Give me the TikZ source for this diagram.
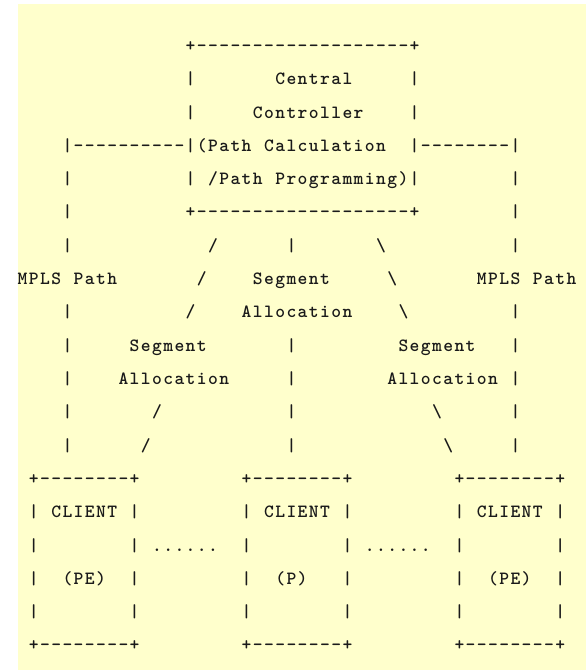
\documentclass[tikz,border=0pt]{standalone}
\usepackage{fontspec}
\definecolor{bgyellow}{HTML}{FFFFCC}
\definecolor{ink}{HTML}{1A1A1A}
\newcommand\colx[1]{(17+11.2*#1)}
\newcommand\rowy[1]{(51.5+33.3*(#1-1))}
% every character in a cell of fixed width (monospaced grid)
\def\cellstr#1{\cellstri#1\relax}
\def\cellstri#1{\ifx\relax#1\else\makebox[8.4pt]{#1}\expandafter\cellstri\fi}
\newcommand\tx[4]{\node[txt] (#1) at ({\colx{#2}},{\rowy{#3}}) {\cellstr{#4}};}
\begin{document}
\begin{tikzpicture}[x=0.75pt,y=-0.75pt,
  txt/.style={anchor=base west,inner sep=0pt,outer sep=0pt,
    font=\ttfamily\bfseries\fontsize{14}{16}\selectfont,text=ink}]
\useasboundingbox (0,0) rectangle (586,670);
\fill[bgyellow] (18,4) rectangle (586,670);
% row 1
\tx{ctop}{15}{1}{+-------------------+}
% row 2
\tx{r2a}{15}{2}{|}
\tx{central}{23}{2}{Central}
\tx{r2b}{35}{2}{|}
% row 3
\tx{r3a}{15}{3}{|}
\tx{controller}{21}{3}{Controller}
\tx{r3b}{35}{3}{|}
% row 4
\tx{ldash}{4}{4}{|----------|}
\tx{pathcalc}{16}{4}{(Path~Calculation}
\tx{rdash}{35}{4}{|--------|}
% row 5
\tx{r5a}{4}{5}{|}
\tx{r5b}{15}{5}{|}
\tx{pathprog}{17}{5}{/Path~Programming)}
\tx{r5c}{35}{5}{|}
\tx{r5d}{44}{5}{|}
% row 6
\tx{r6a}{4}{6}{|}
\tx{cbot}{15}{6}{+-------------------+}
\tx{r6b}{44}{6}{|}
% row 7
\tx{r7a}{4}{7}{|}
\tx{r7b}{17}{7}{/}
\tx{r7c}{24}{7}{|}
\tx{r7d}{32}{7}{\textbackslash}
\tx{r7e}{44}{7}{|}
% row 8
\tx{mplsl}{0}{8}{MPLS~Path}
\tx{r8b}{16}{8}{/}
\tx{segc}{21}{8}{Segment}
\tx{r8d}{33}{8}{\textbackslash}
\tx{mplsr}{41}{8}{MPLS~Path}
% row 9
\tx{r9a}{4}{9}{|}
\tx{r9b}{15}{9}{/}
\tx{allocc}{20}{9}{Allocation}
\tx{r9d}{34}{9}{\textbackslash}
\tx{r9e}{44}{9}{|}
% row 10
\tx{r10a}{4}{10}{|}
\tx{segl}{10}{10}{Segment}
\tx{r10c}{24}{10}{|}
\tx{segr}{34}{10}{Segment}
\tx{r10e}{44}{10}{|}
% row 11
\tx{r11a}{4}{11}{|}
\tx{allocl}{9}{11}{Allocation}
\tx{r11c}{24}{11}{|}
\tx{allocr}{33}{11}{Allocation}
\tx{r11e}{44}{11}{|}
% row 12
\tx{r12a}{4}{12}{|}
\tx{r12b}{12}{12}{/}
\tx{r12c}{24}{12}{|}
\tx{r12d}{37}{12}{\textbackslash}
\tx{r12e}{44}{12}{|}
% row 13
\tx{r13a}{4}{13}{|}
\tx{r13b}{11}{13}{/}
\tx{r13c}{24}{13}{|}
\tx{r13d}{38}{13}{\textbackslash}
\tx{r13e}{44}{13}{|}
% row 14
\tx{b1top}{1}{14}{+--------+}
\tx{b2top}{20}{14}{+--------+}
\tx{b3top}{39}{14}{+--------+}
% row 15
\tx{b1l15}{1}{15}{|}
\tx{client1}{3}{15}{CLIENT}
\tx{b1r15}{10}{15}{|}
\tx{b2l15}{20}{15}{|}
\tx{client2}{22}{15}{CLIENT}
\tx{b2r15}{29}{15}{|}
\tx{b3l15}{39}{15}{|}
\tx{client3}{41}{15}{CLIENT}
\tx{b3r15}{48}{15}{|}
% row 16
\tx{b1l16}{1}{16}{|}
\tx{b1r16}{10}{16}{|}
\tx{dots1}{12}{16}{......}
\tx{b2l16}{20}{16}{|}
\tx{b2r16}{29}{16}{|}
\tx{dots2}{31}{16}{......}
\tx{b3l16}{39}{16}{|}
\tx{b3r16}{48}{16}{|}
% row 17
\tx{b1l17}{1}{17}{|}
\tx{pe1}{4}{17}{(PE)}
\tx{b1r17}{10}{17}{|}
\tx{b2l17}{20}{17}{|}
\tx{p2}{23}{17}{(P)}
\tx{b2r17}{29}{17}{|}
\tx{b3l17}{39}{17}{|}
\tx{pe3}{42}{17}{(PE)}
\tx{b3r17}{48}{17}{|}
% row 18
\tx{b1l18}{1}{18}{|}
\tx{b1r18}{10}{18}{|}
\tx{b2l18}{20}{18}{|}
\tx{b2r18}{29}{18}{|}
\tx{b3l18}{39}{18}{|}
\tx{b3r18}{48}{18}{|}
% row 19
\tx{b1bot}{1}{19}{+--------+}
\tx{b2bot}{20}{19}{+--------+}
\tx{b3bot}{39}{19}{+--------+}
\end{tikzpicture}
\end{document}
